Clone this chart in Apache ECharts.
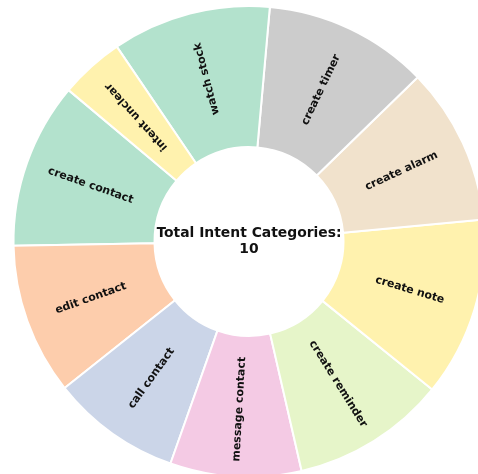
<!DOCTYPE html>
<html>
<head>
<meta charset="utf-8">
<script src="https://cdn.jsdelivr.net/npm/echarts@6/dist/echarts.min.js"></script>
<style>
html,body{margin:0;padding:0;background:#fff;}
#chart{width:478px;height:474px;}
</style>
</head>
<body>
<div id="chart"></div>
<script>
// Data (counter-clockwise order, as in the source chart)
var categories = ["create contact", "edit contact", "call contact", "message contact", "create reminder", "create note", "create alarm", "create timer", "watch stock", "intent unclear"];
var counts = [114, 104, 89, 90, 106, 123, 108, 113, 109, 44];
var centerTitle = "Total Intent Categories:";
var centerValue = String(categories.length);

var palette = ["#b3e2cd", "#fdcdac", "#cbd5e8", "#f4cae4", "#e6f5c9", "#fff2ae", "#f1e2cc", "#cccccc", "#b3e2cd", "#fff2ae"];
var startAngle = 140;

var total = counts.reduce(function (a, b) { return a + b; }, 0);
var cum = 0;
var seriesData = categories.map(function (name, i) {
  var mid = startAngle + (cum + counts[i] / 2) / total * 360;
  cum += counts[i];
  var rot = mid;
  if (rot > 90 && rot < 270) rot += 180;
  return {
    name: name,
    value: counts[i],
    itemStyle: { color: palette[i] },
    label: { rotate: rot }
  };
});

var chart = echarts.init(document.getElementById('chart'), null, { renderer: 'canvas' });
chart.setOption({
  animation: false,
  series: [{
    type: 'pie',
    center: [249, 241.5],
    radius: [94.5, 235.5],
    startAngle: startAngle,
    clockwise: false,
    avoidLabelOverlap: false,
    itemStyle: { borderColor: '#ffffff', borderWidth: 2 },
    label: {
      show: true,
      position: 'inside',
      formatter: '{b}',
      color: '#111111',
      fontFamily: 'DejaVu Sans',
      fontWeight: 'bold',
      fontSize: 11
    },
    labelLine: { show: false },
    emphasis: { disabled: true },
    data: seriesData
  }],
  graphic: [{
    type: 'text',
    x: 249,
    y: 241,
    style: {
      text: centerTitle + '\n' + centerValue,
      x: 0, y: 0,
      align: 'center',
      verticalAlign: 'middle',
      fontFamily: 'DejaVu Sans',
      fontWeight: 'bold',
      fontSize: 13.9,
      lineHeight: 16,
      fill: '#111111'
    }
  }]
});
</script>
</body>
</html>
